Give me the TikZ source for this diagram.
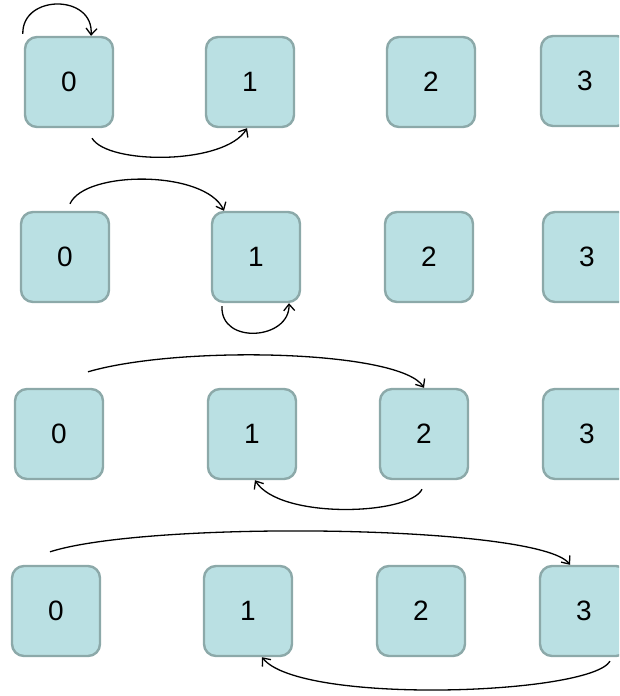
\documentclass[tikz,border=0pt]{standalone}
\usepackage{fontspec}
\setmainfont{Liberation Sans}
\usetikzlibrary{arrows.meta}
\definecolor{boxfill}{HTML}{BAE0E3}
\definecolor{boxline}{HTML}{8CA9A9}
\tikzset{
  cell/.style={draw=boxline, fill=boxfill, line width=2.4pt, rounded corners=12pt,
    minimum width=88pt, minimum height=90pt, inner sep=0pt, font=\fontsize{28}{28}\selectfont},
  link/.style={line width=1.3pt, -{Straight Barb[length=6.5pt,width=11pt]}}
}
\begin{document}
\begin{tikzpicture}[x=1pt,y=-1pt]
\clip (0,0) rectangle (619,696);
\useasboundingbox (0,0) rectangle (619,696);
% row 1
\node[cell] (a0) at (69,82) {0};
\node[cell] (a1) at (250,82) {1};
\node[cell] (a2) at (431,82) {2};
\node[cell] (a3) at (585,81) {3};
% row 2
\node[cell] (b0) at (65,257) {0};
\node[cell] (b1) at (256,257) {1};
\node[cell] (b2) at (429,257) {2};
\node[cell] (b3) at (587,257) {3};
% row 3
\node[cell] (c0) at (59,434) {0};
\node[cell] (c1) at (252,434) {1};
\node[cell] (c2) at (424,434) {2};
\node[cell] (c3) at (587,434) {3};
% row 4
\node[cell] (d0) at (56,611) {0};
\node[cell] (d1) at (248,611) {1};
\node[cell] (d2) at (421,611) {2};
\node[cell] (d3) at (584,611) {3};
% arrows row 1
\draw[link] ([shift={(-1,-2)}]a0.north west) .. controls (22,-6) and (94,-6) .. ([xshift=22pt]a0.north);
\draw[link] ([shift={(23,10)}]a0.south) .. controls (108,165) and (225,165) .. ([xshift=-3pt]a1.south);
% arrows row 2
\draw[link] ([shift={(5,-7)}]b0.north) .. controls (85,170) and (205,170) .. ([xshift=-32pt]b1.north);
\draw[link] ([shift={(-34,3)}]b1.south) .. controls (220,345) and (290,340) .. ([xshift=33pt]b1.south);
% arrows row 3
\draw[link] ([shift={(29,-16)}]c0.north) .. controls (180,345) and (400,350) .. (c2.north);
\draw[link] ([shift={(-2,9)}]c2.south) .. controls (410,515) and (280,520) .. ([xshift=3pt]c1.south);
% arrows row 4
\draw[link] ([shift={(-6,-13)}]d0.north) .. controls (150,520) and (540,525) .. ([xshift=-14pt]d3.north);
\draw[link] ([shift={(26,4)}]d3.south) .. controls (590,695) and (300,705) .. ([xshift=14pt]d1.south);
\end{tikzpicture}
\end{document}
